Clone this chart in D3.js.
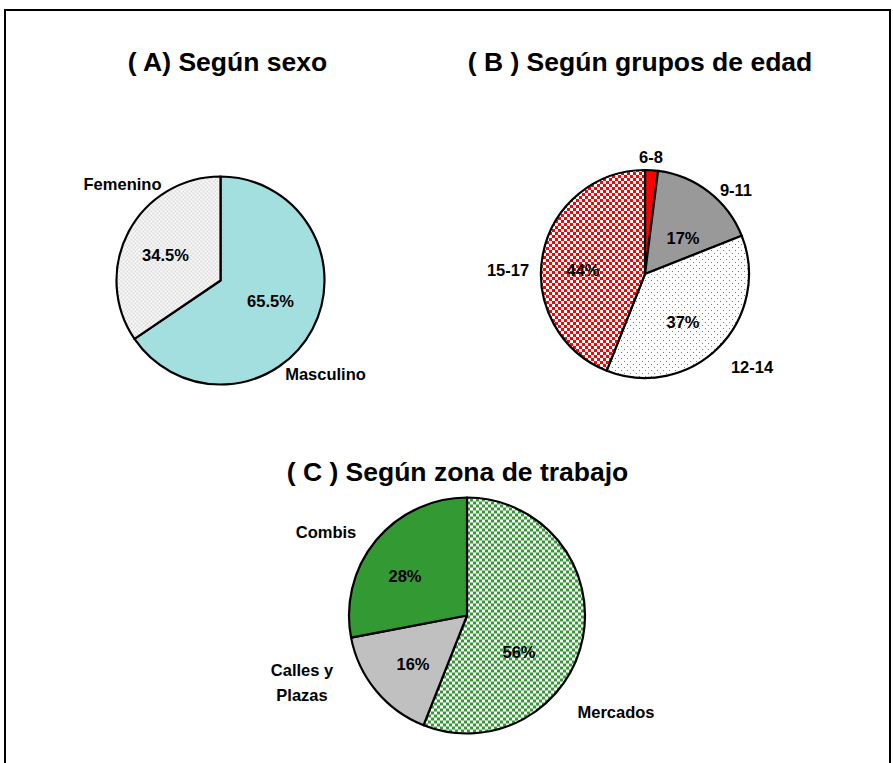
<!DOCTYPE html>
<html>
<head>
<meta charset="utf-8">
<script src="https://cdn.jsdelivr.net/npm/d3@7"></script>
<style>
  body { margin: 0; background: #fff; }
  svg text { font-family: Arial, "Liberation Sans", sans-serif; font-weight: bold; fill: #000; }
  pattern rect { shape-rendering: crispEdges; }
</style>
</head>
<body>
<div id="chart"></div>
<script>
// Data
const sexoLabels = ['Masculino', 'Femenino'];
const sexoValues = [65.5, 34.5];
const sexoPct = ['65.5%', '34.5%'];

const edadLabels = ['6-8', '9-11', '12-14', '15-17'];
const edadValues = [2, 17, 37, 44];
const edadPct = ['', '17%', '37%', '44%'];

const zonaLabels = ['Mercados', 'Calles y|Plazas', 'Combis'];
const zonaValues = [56, 16, 28];
const zonaPct = ['56%', '16%', '28%'];

const W = 893, H = 763;

const svg = d3.select('#chart')
  .append('svg')
  .attr('width', W)
  .attr('height', H);

// fill patterns
const defs = svg.append('defs');

function checker(id, size, color, bg) {
  const p = defs.append('pattern')
    .attr('id', id)
    .attr('patternUnits', 'userSpaceOnUse')
    .attr('width', size * 2)
    .attr('height', size * 2);
  p.append('rect').attr('width', size * 2).attr('height', size * 2).attr('fill', bg);
  p.append('rect').attr('width', size).attr('height', size).attr('fill', color);
  p.append('rect').attr('x', size).attr('y', size).attr('width', size).attr('height', size).attr('fill', color);
}
checker('pFem', 2, '#dadada', '#fff');
checker('pRed', 3, '#ff0000', '#fff');
checker('pGreen', 3, '#339933', '#fff');

const dots = defs.append('pattern')
  .attr('id', 'pDots')
  .attr('patternUnits', 'userSpaceOnUse')
  .attr('width', 6)
  .attr('height', 6);
dots.append('rect').attr('width', 6).attr('height', 6).attr('fill', '#fff');
dots.append('rect').attr('x', 0).attr('y', 0).attr('width', 1).attr('height', 1).attr('fill', '#ff4040');
dots.append('rect').attr('x', 3).attr('y', 3).attr('width', 1).attr('height', 1).attr('fill', '#ff4040');

// frame
svg.append('rect')
  .attr('x', 5).attr('y', 10)
  .attr('width', 885).attr('height', 770)
  .attr('fill', 'none')
  .attr('stroke', '#000')
  .attr('stroke-width', 2);

// draw one pie
function drawPie(opts) {
  const g = svg.append('g')
    .attr('transform', `translate(${opts.cx},${opts.cy})`);

  const pie = d3.pie().sort(null).value(d => d);
  const arc = d3.arc().innerRadius(0).outerRadius(opts.r);
  const arcs = pie(opts.values);

  g.selectAll('path.slice')
    .data(arcs)
    .enter()
    .append('path')
    .attr('class', 'slice')
    .attr('d', arc)
    .attr('fill', (d, i) => opts.fills[i])
    .attr('stroke', '#000')
    .attr('stroke-width', 2.2)
    .attr('stroke-linejoin', 'round');

  // percent labels
  g.selectAll('text.pct')
    .data(arcs)
    .enter()
    .append('text')
    .attr('class', 'pct')
    .attr('x', (d, i) => opts.pctPos[i][0])
    .attr('y', (d, i) => opts.pctPos[i][1])
    .attr('text-anchor', 'middle')
    .attr('dominant-baseline', 'central')
    .style('font-size', '16.5px')
    .text((d, i) => opts.pct[i]);

  // category labels
  const lab = g.selectAll('text.cat')
    .data(arcs)
    .enter()
    .append('text')
    .attr('class', 'cat')
    .attr('text-anchor', 'middle')
    .style('font-size', '16.5px');
  lab.each(function(d, i) {
    const lines = opts.labels[i].split('|');
    const t = d3.select(this);
    lines.forEach((ln, k) => {
      t.append('tspan')
        .attr('x', opts.labPos[i][0])
        .attr('y', opts.labPos[i][1] + k * 25)
        .attr('dominant-baseline', 'central')
        .text(ln);
    });
  });

  svg.append('text')
    .attr('x', opts.tx)
    .attr('y', opts.ty)
    .attr('text-anchor', 'middle')
    .attr('dominant-baseline', 'central')
    .style('font-size', '26.5px')
    .text(opts.title);
}

drawPie({
  title: '( A) Según sexo', tx: 227.5, ty: 62,
  cx: 220.5, cy: 280.5, r: 104,
  values: sexoValues, labels: sexoLabels, pct: sexoPct,
  fills: ['#a4dfe0', 'url(#pFem)'],
  pctPos: [[50, 20], [-55, -26]],
  labPos: [[105, 93], [-98, -97]]
});

drawPie({
  title: '( B ) Según grupos de edad', tx: 640, ty: 62,
  cx: 645, cy: 274, r: 104,
  values: edadValues, labels: edadLabels, pct: edadPct,
  fills: ['#ff0000', '#999999', 'url(#pDots)', 'url(#pRed)'],
  pctPos: [[0, 0], [38, -36], [38, 48], [-62, -4]],
  labPos: [[6, -117], [91, -84], [107, 93], [-137, -4]]
});

drawPie({
  title: '( C ) Según zona de trabajo', tx: 457.5, ty: 472,
  cx: 467, cy: 615.5, r: 118,
  values: zonaValues, labels: zonaLabels, pct: zonaPct,
  fills: ['url(#pGreen)', '#c0c0c0', '#339933'],
  pctPos: [[52, 36], [-54, 48], [-62, -40]],
  labPos: [[149, 96], [-165, 54], [-141, -84]]
});
</script>
</body>
</html>
